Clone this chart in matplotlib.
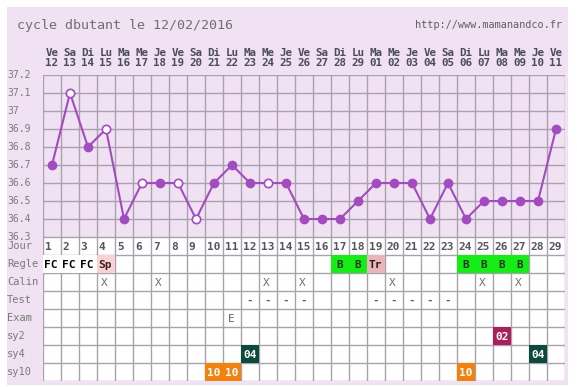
import numpy as np
import matplotlib
matplotlib.use("Agg")
import matplotlib.pyplot as plt
import matplotlib.transforms as mtransforms
from matplotlib.patches import Rectangle

# data
day_names = ['Ve', 'Sa', 'Di', 'Lu', 'Ma', 'Me', 'Je', 'Ve', 'Sa', 'Di', 'Lu', 'Ma', 'Me', 'Je', 'Ve',
             'Sa', 'Di', 'Lu', 'Ma', 'Me', 'Je', 'Ve', 'Sa', 'Di', 'Lu', 'Ma', 'Me', 'Je', 'Ve']
dates = ['12', '13', '14', '15', '16', '17', '18', '19', '20', '21', '22', '23', '24', '25', '26',
         '27', '28', '29', '01', '02', '03', '04', '05', '06', '07', '08', '09', '10', '11']
temps = [36.7, 37.1, 36.8, 36.9, 36.4, 36.6, 36.6, 36.6, 36.4, 36.6, 36.7, 36.6, 36.6, 36.6, 36.4,
         36.4, 36.4, 36.5, 36.6, 36.6, 36.6, 36.4, 36.6, 36.4, 36.5, 36.5, 36.5, 36.5, 36.9]
open_days = [2, 4, 6, 8, 9, 13]   # hollow markers
yticks = [37.2, 37.1, 37.0, 36.9, 36.8, 36.7, 36.6, 36.5, 36.4, 36.3]
ytick_labels = ['37.2', '37.1', '37', '36.9', '36.8', '36.7', '36.6', '36.5', '36.4', '36.3']
row_names = ['Jour', 'Regle', 'Calin', 'Test', 'Exam', 'sy2', 'sy4', 'sy10']

regle = {1: 'FC', 2: 'FC', 3: 'FC', 4: 'Sp', 17: 'B', 18: 'B', 19: 'Tr',
         24: 'B', 25: 'B', 26: 'B', 27: 'B'}
calin = [4, 7, 13, 15, 20, 25, 27]
test = [12, 13, 14, 15, 19, 20, 21, 22, 23]
exam = {11: 'E'}
sy2 = [26]
sy4 = [12, 28]
sy10 = [10, 11, 24]

W, H = 577, 387
PURPLE = '#a24cbf'
GRID = '#a9a1ad'
LAV = '#f0e2f3'
TXT = '#4c4c5c'
GRAYTXT = '#7a7a7a'
MONO = 'DejaVu Sans Mono'

regle_bg = {'FC': 'white', 'Sp': '#f8d2d4', 'B': '#16ec16', 'Tr': '#e9b5bb'}
regle_fg = {'FC': 'black', 'Sp': '#402020', 'B': '#1e3a1e', 'Tr': '#301818'}

fig = plt.figure(figsize=(W / 100, H / 100), dpi=100)
fig.patch.set_facecolor('white')
fig.patches.append(Rectangle((7 / W, 1 - 385 / H), 561 / W, 378 / H, transform=fig.transFigure,
                             facecolor=LAV, edgecolor='none', zorder=-10))

left, right = 43 / W, 565 / W
top_t, bot_t = 75, 237
bot_tab = 381

# temperature axes
ax = fig.add_axes([left, 1 - bot_t / H, right - left, (bot_t - top_t) / H])
ax.set_facecolor(LAV)
days = np.arange(1, 30)
ax.set_xlim(0.5, 29.5)
ax.set_ylim(36.3, 37.2)
for x in np.arange(0.5, 30, 1):
    ax.axvline(x, color=GRID, lw=1, zorder=1)
for y in yticks:
    ax.axhline(y, color=GRID, lw=1, zorder=1)
ax.plot(days, temps, color=PURPLE, lw=1.5, zorder=2, solid_capstyle='butt')
filled = [i for i in range(29) if (i + 1) not in open_days]
hollow = [i for i in range(29) if (i + 1) in open_days]
ax.plot(days[filled], np.array(temps)[filled], 'o', ms=6, color=PURPLE, zorder=3)
ax.plot(days[hollow], np.array(temps)[hollow], 'o', ms=6, mfc='white', mec=PURPLE, mew=1.2, zorder=3)
ax.set_xticks([])
ax.set_yticks([])
for s in ax.spines.values():
    s.set_visible(False)

ylab_tf = mtransforms.blended_transform_factory(fig.transFigure, ax.transData)
for y, lab in zip(yticks, ytick_labels):
    ax.text(7 / W, y, lab, transform=ylab_tf, ha='left', va='center',
            fontsize=7, family=MONO, color=GRAYTXT, clip_on=False)

head_tf = mtransforms.blended_transform_factory(ax.transData, fig.transFigure)
for i, (dn, dt) in enumerate(zip(day_names, dates)):
    ax.text(i + 1, 1 - 53 / H, dn, transform=head_tf, ha='center', va='center',
            fontsize=7.8, family=MONO, weight='bold', color=TXT)
    ax.text(i + 1, 1 - 63 / H, dt, transform=head_tf, ha='center', va='center',
            fontsize=7.8, family=MONO, weight='bold', color=TXT)

# table axes
tb = fig.add_axes([left, 1 - bot_tab / H, right - left, (bot_tab - bot_t) / H])
tb.set_facecolor('white')
tb.set_xlim(0.5, 29.5)
tb.set_ylim(len(row_names), 0)
tb.set_xticks([])
tb.set_yticks([])
for s in tb.spines.values():
    s.set_visible(False)
for x in np.arange(0.5, 30, 1):
    tb.axvline(x, color=GRID, lw=1, zorder=1)
for y in range(len(row_names) + 1):
    tb.axhline(y, color=GRID, lw=1, zorder=1)

row_tf = mtransforms.blended_transform_factory(fig.transFigure, tb.transData)
for r, name in enumerate(row_names):
    tb.text(7 / W, r + 0.5, name, transform=row_tf, ha='left', va='center',
            fontsize=7.5, family=MONO, color=GRAYTXT)

def cell(col, row, text, bg=None, fg=TXT, bold=True, dx=0.12):
    if bg is not None:
        tb.add_patch(Rectangle((col - 0.5, row), 1, 1, facecolor=bg, edgecolor='none', zorder=2))
    tb.text(col - 0.5 + dx, row + 0.55, text, ha='left', va='center', fontsize=8, family=MONO,
            weight='bold' if bold else 'normal', color=fg, zorder=3)

for d in days:
    cell(d, 0, str(d), fg='#555560', dx=0.1)
for d, t in regle.items():
    cell(d, 1, t, bg=regle_bg[t], fg=regle_fg[t], dx=0.3 if t == 'B' else 0.08)
for d in calin:
    cell(d, 2, 'X', fg='#707070', bold=False, dx=0.2)
for d in test:
    cell(d, 3, '-', fg='#606060', dx=0.3)
for d, t in exam.items():
    cell(d, 4, t, fg='#606060', bold=False, dx=0.25)
for d in sy2:
    cell(d, 5, '02', bg='#a8205c', fg='white')
for d in sy4:
    cell(d, 6, '04', bg='#0c4a3c', fg='white')
for d in sy10:
    cell(d, 7, '10', bg='#ef830e', fg='white')

fig.text(17 / W, 1 - 25 / H, 'cycle dbutant le 12/02/2016', ha='left', va='center',
         fontsize=9.6, family=MONO, color='#707070')
fig.text(562 / W, 1 - 25 / H, 'http://www.mamanandco.fr', ha='right', va='center',
         fontsize=7.4, family=MONO, color='#606060')

fig.savefig('out.png', dpi=100, facecolor='white')
